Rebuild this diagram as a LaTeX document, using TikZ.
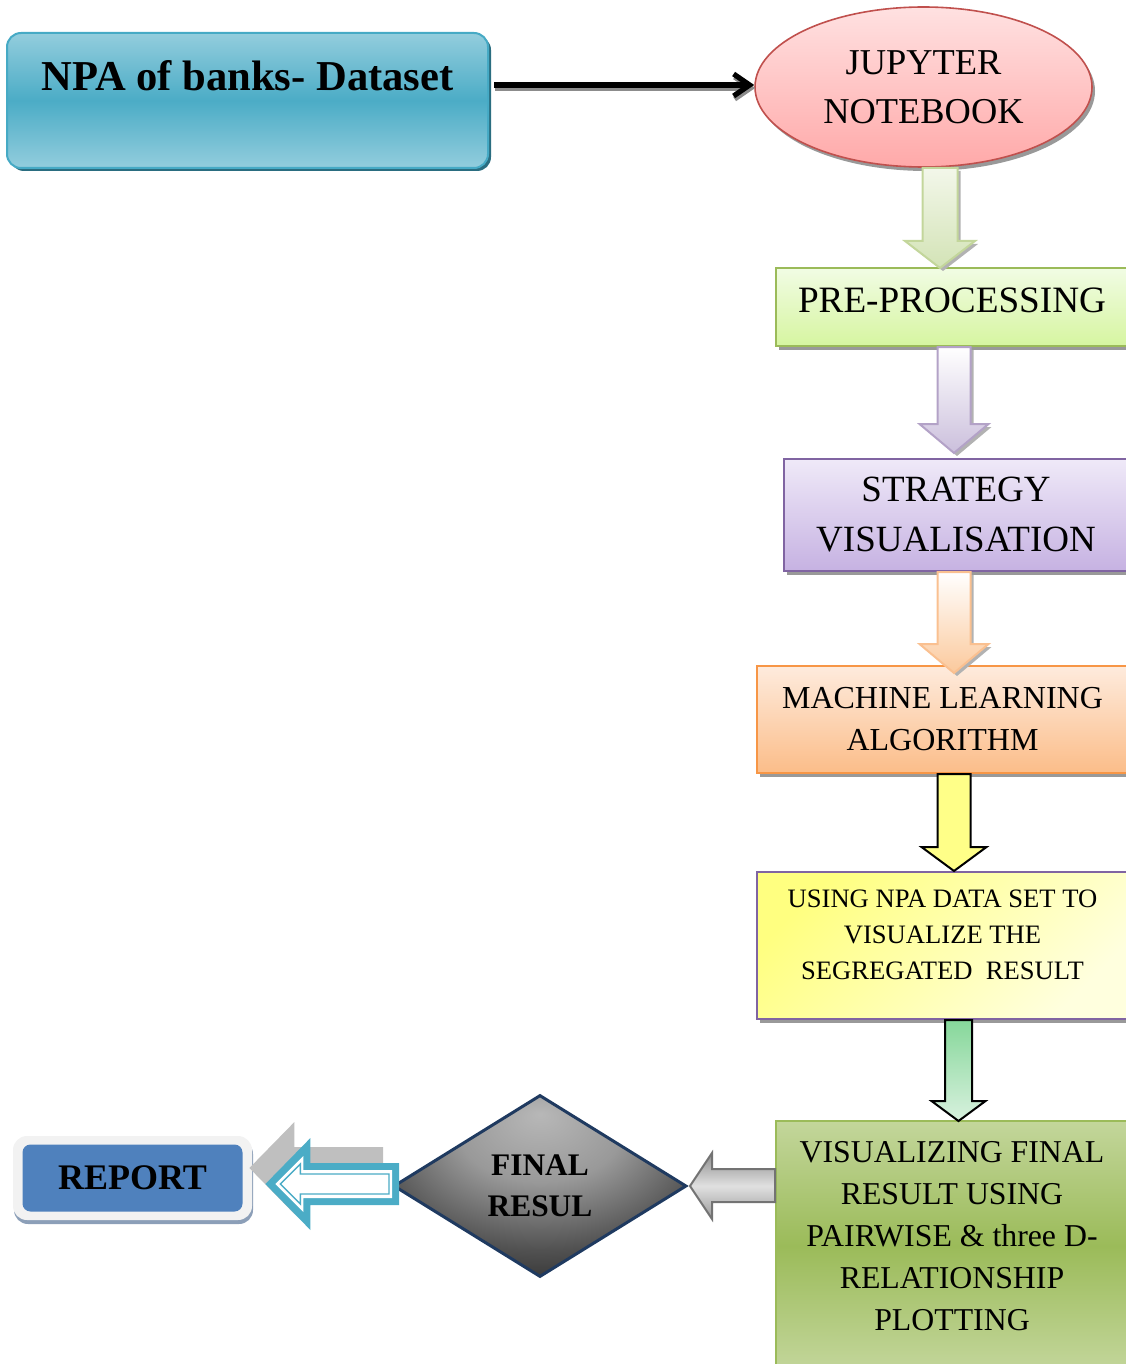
\documentclass[tikz,border=0pt]{standalone}
\usepackage{fontspec}
\setmainfont{Liberation Serif}
\usetikzlibrary{shapes.geometric,shadows,calc,arrows.meta}
\newcommand\setfs[2]{\fontsize{#1}{#2}\selectfont}
\definecolor{dsL}{HTML}{93CDDD}
\definecolor{dsM}{HTML}{4BACC6}
\definecolor{dsB}{HTML}{46AAC5}
\definecolor{dsS}{HTML}{2A6D80}
\definecolor{juT}{HTML}{FFE1E1}
\definecolor{juBo}{HTML}{FFA9A9}
\definecolor{juB}{HTML}{C0504D}
\definecolor{preT}{HTML}{F1FCE4}
\definecolor{preBo}{HTML}{D6F5A0}
\definecolor{preB}{HTML}{9BBB59}
\definecolor{stT}{HTML}{EFE9F8}
\definecolor{stBo}{HTML}{C6B2E2}
\definecolor{stB}{HTML}{8064A2}
\definecolor{mlT}{HTML}{FEEBDD}
\definecolor{mlBo}{HTML}{FBBD89}
\definecolor{mlB}{HTML}{F79646}
\definecolor{usL}{HTML}{FFFF80}
\definecolor{usR}{HTML}{FFFFDE}
\definecolor{usB}{HTML}{8064A2}
\definecolor{vfT}{HTML}{C3D69B}
\definecolor{vfM}{HTML}{9BBB59}
\definecolor{frB}{HTML}{1F3A60}
\definecolor{cy}{HTML}{4BACC6}
\definecolor{repF}{HTML}{F2F2F2}
\definecolor{repS}{HTML}{8C9FB8}
\definecolor{repB}{HTML}{4F81BD}
\definecolor{gaT}{HTML}{F3F7EA}
\definecolor{gaBo}{HTML}{D3E3B6}
\definecolor{gaB}{HTML}{C3D69B}
\definecolor{paB}{HTML}{B3A2C7}
\definecolor{paBo}{HTML}{CBBFDC}
\definecolor{oaB}{HTML}{FAC090}
\definecolor{oaBo}{HTML}{FBC99C}
\definecolor{yaF}{HTML}{FFFF88}
\definecolor{g2T}{HTML}{86D79A}
\definecolor{g2Bo}{HTML}{D8F1DE}
\pgfdeclareradialshading{diamshade}{\pgfpoint{0bp}{20bp}}{%
  color(0bp)=(black!28); color(14bp)=(black!40); color(28bp)=(black!68);
  color(42bp)=(black!90); color(58bp)=(black!97)}
% block arrow pointing down: style, x, from, to, shaft half, head half, head length, tip offset
\newcommand\dnarrow[8]{%
  \coordinate (xc) at (#2,0);
  \coordinate (ta) at (#3 -| xc);
  \coordinate (tb) at ($(#4 -| xc)+(0,#8)$);
  \path[#1] ($(ta)+(-#5,0)$) -- ($(ta)+(#5,0)$) -- ($(tb)+(#5,-#7)$) -- ($(tb)+(#6,-#7)$)
    -- (tb) -- ($(tb)+(-#6,-#7)$) -- ($(tb)+(-#5,-#7)$) -- cycle;}
\begin{document}
\begin{tikzpicture}[x=0.5pt,y=-0.5pt,
  flowbox/.style={draw, line width=1pt, anchor=north west, inner sep=0pt, align=center},
  shad/.style={drop shadow={shadow xshift=1.5pt,shadow yshift=-2pt,fill=black!40,opacity=1}},
  ashad/.style={drop shadow={shadow xshift=1.5pt,shadow yshift=-1.5pt,fill=black!30,opacity=1}},
  blk/.style={draw, line width=1pt, line join=miter},
  garr/.style={blk, draw=gaB, top color=gaT, bottom color=gaBo, ashad},
  parr/.style={blk, draw=paB, top color=white, bottom color=paBo, ashad},
  oarr/.style={blk, draw=oaB, top color=white, bottom color=oaBo, ashad},
  yarr/.style={blk, draw=black, fill=yaF},
  g2arr/.style={blk, draw=black, top color=g2T, bottom color=g2Bo},
  grarr/.style={blk, draw=black!55, top color=black!45, bottom color=black!40, middle color=black!12},
  barr/.style={line width=2.6pt, -{Straight Barb[length=8pt,width=11pt]}}
]
\useasboundingbox (0,0) rectangle (1125,1364);

% nodes
\node[flowbox, rounded corners=7pt, minimum width=240.5pt, minimum height=67.5pt, draw=dsB,
  top color=dsL, bottom color=dsL, middle color=dsM,
  drop shadow={shadow xshift=1.5pt,shadow yshift=-1.5pt,fill=dsS,opacity=1},
  font=\bfseries\setfs{21.3}{26}, text depth=24.5pt] (ds) at (6,32) {NPA of banks- Dataset};

\node[ellipse, draw=juB, line width=0.8pt, top color=juT, bottom color=juBo,
  minimum width=168.5pt, minimum height=80pt, inner sep=0pt, align=center,
  font=\setfs{18.2}{24.5}, shad] (ju) at (923.5,87) {JUPYTER\\NOTEBOOK};

\node[flowbox, minimum width=176pt, minimum height=39pt, draw=preB, top color=preT, bottom color=preBo,
  font=\setfs{18.6}{22}, text depth=6.6pt, shad] (pre) at (775,267) {PRE-PROCESSING};

\node[flowbox, minimum width=172pt, minimum height=56pt, draw=stB, top color=stT, bottom color=stBo,
  font=\setfs{18.5}{25}, shad] (st) at (783,458) {STRATEGY\\VISUALISATION};

\node[flowbox, minimum width=185.5pt, minimum height=53.5pt, draw=mlB, top color=mlT, bottom color=mlBo,
  font=\setfs{16}{21}, shad] (ml) at (756,665) {MACHINE LEARNING\\ALGORITHM};

\node[flowbox, minimum width=185.5pt, minimum height=73.5pt, draw=usB, left color=usL, right color=usR,
  shading angle=45, font=\setfs{13.3}{18}, text depth=11pt, shad] (us) at (756,871)
  {USING NPA DATA SET TO\\VISUALIZE THE\\SEGREGATED~ RESULT};

\node[flowbox, minimum width=176pt, minimum height=125pt, draw=vfM, top color=vfT, bottom color=vfT,
  middle color=vfM, font=\setfs{15.9}{21}, text depth=10pt] (vf) at (775,1120)
  {VISUALIZING FINAL\\RESULT USING\\PAIRWISE \& three D-\\RELATIONSHIP\\PLOTTING};

\node[diamond, draw=frB, line width=1.5pt, shade, shading=diamshade,
  minimum width=146.5pt, minimum height=91pt, inner sep=0pt, align=center,
  font=\bfseries\setfs{15.7}{20.5}] (fr) at (540,1186) {FINAL\\RESUL};

\node[rounded corners=7pt, minimum width=119.5pt, minimum height=42pt, fill=repF, inner sep=0pt,
  drop shadow={shadow xshift=0.5pt,shadow yshift=-2pt,fill=repS,opacity=1}] (repf) at (132.5,1178) {};
\node[rounded corners=4pt, minimum width=110pt, minimum height=33.5pt, fill=repB, inner sep=0pt,
  font=\bfseries\setfs{18}{22}] (rep) at (repf.center) {REPORT};

% black arrow with shadow
\draw[barr, black!45] ($(ds.north east)+(6,56)$) -- ($(ju.west)+(1,1)$);
\draw[barr, black] ($(ds.north east)+(5,53)$) -- ($(ju.west)+(0,-2)$);

% block arrows down
\dnarrow{garr}{940}{ju.south}{pre.north}{17.5}{35}{27}{1}
\dnarrow{parr}{954}{pre.south}{st.north}{16.5}{34.5}{29}{-5}
\dnarrow{oarr}{954}{st.south}{ml.north}{16.5}{34.5}{29}{8}
\dnarrow{yarr}{954}{ml.south}{us.north}{16.5}{32.5}{24}{0}
\dnarrow{g2arr}{958.5}{us.south}{vf.north}{13.5}{27}{20}{1}

% gray arrow from vf to diamond
\coordinate (gt) at ($(fr.east)+(2,0)$);
\path[grarr] (gt) -- +(22,-33) -- +(22,-17) -- ($(gt -| vf.west)+(0,-17)$) -- ($(gt -| vf.west)+(0,16)$)
  -- ($(gt)+(22,16)$) -- ($(gt)+(22,33)$) -- cycle;

% cyan arrow from diamond to report
\coordinate (ca) at ($(repf.east |- fr.west)+(13,-2)$);
\coordinate (ce) at (ca -| fr.west);
\coordinate (sa) at ($(ca)+(-16,-16)$);
\coordinate (se) at ($(ce)+(-16,-16)$);
\path[fill=black!25] (sa) -- +(45,-46) -- +(45,-21) -- ($(se)+(7,-21)$) -- ($(se)+(7,21)$)
  -- ($(sa)+(45,21)$) -- ($(sa)+(45,46)$) -- cycle;
\path[fill=cy] (ca) -- +(45,-46) -- +(45,-21) -- ($(ce)+(7,-21)$) -- ($(ce)+(7,21)$)
  -- ($(ca)+(45,21)$) -- ($(ca)+(45,46)$) -- cycle;
\path[fill=white] ($(ca)+(10,0)$) -- ($(ca)+(38,-28)$) -- ($(ca)+(38,-14)$) -- ($(ce)+(0,-14)$)
  -- ($(ce)+(0,14)$) -- ($(ca)+(38,14)$) -- ($(ca)+(38,28)$) -- cycle;
\draw[cy, line width=0.7pt] ($(ca)+(15,0)$) -- ($(ca)+(35,-20)$) -- ($(ca)+(35,-10)$) -- ($(ce)+(-3,-10)$)
  -- ($(ce)+(-3,10)$) -- ($(ca)+(35,10)$) -- ($(ca)+(35,20)$) -- cycle;
\end{tikzpicture}
\end{document}
